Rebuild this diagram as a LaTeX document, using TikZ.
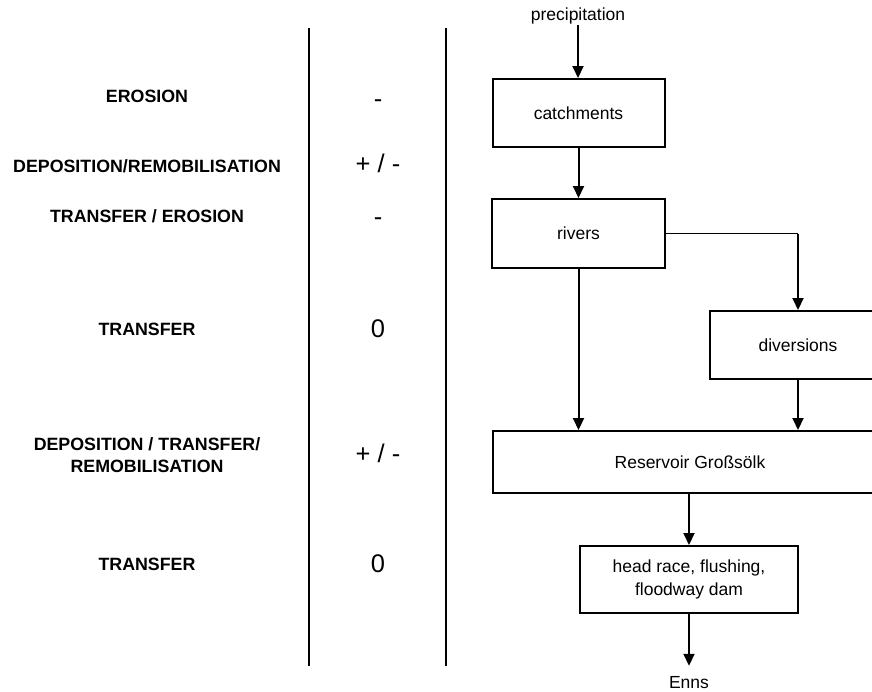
\documentclass[tikz,border=0pt]{standalone}
\usepackage{fontspec}
\setmainfont{Liberation Sans}
\usetikzlibrary{arrows.meta}
\begin{document}
\begin{tikzpicture}[x=1pt,y=-1pt,
  box/.style={draw,line width=2pt,align=center,font=\fontsize{17.5}{23}\selectfont,inner sep=0pt},
  lbl/.style={anchor=base,align=center,font=\fontsize{17.8}{22}\selectfont\bfseries},
  sym/.style={anchor=base,font=\fontsize{25.5}{28}\selectfont},
  plain/.style={anchor=base,font=\fontsize{17.5}{21}\selectfont},
  arr/.style={line width=2pt,-{Triangle[width=11pt,length=12pt]}},
  thinline/.style={line width=1pt},
  sepline/.style={line width=2pt}]
\useasboundingbox (0,0) rectangle (872,691);
\clip (0,0) rectangle (872,691);

% separators
\coordinate (s1t) at (309,28); \coordinate (s1b) at (309,666);
\coordinate (s2t) at (446,28); \coordinate (s2b) at (446,666);
\draw[sepline] (s1t) -- (s1b);
\draw[sepline] (s2t) -- (s2b);

% left labels
\node[lbl] (l1) at (147,102) {EROSION};
\node[lbl] (l2) at (147,172) {DEPOSITION/REMOBILISATION};
\node[lbl] (l3) at (147,222) {TRANSFER / EROSION};
\node[lbl] (l4) at (147,335) {TRANSFER};
\node[lbl,anchor=center] (l5) at (147,455) {DEPOSITION / TRANSFER/\\REMOBILISATION};
\node[lbl] (l6) at (147,570) {TRANSFER};

% middle symbols
\node[sym] (m1) at (378,107) {-};
\node[sym] (m2) at (378,172) {+ / -};
\node[sym] (m3) at (378,225) {-};
\node[sym] (m4) at (378,337) {0};
\node[sym] (m5) at (378,462) {+ / -};
\node[sym] (m6) at (378,572) {0};

% flow boxes
\node[plain,inner sep=1pt] (prec) at (578,20) {precipitation};
\node[box,minimum width=172pt,minimum height=68pt] (cat) at (578.5,113) {catchments};
\node[box,minimum width=173pt,minimum height=69pt] (riv) at (578.5,233.5) {rivers};
\node[box,minimum width=176pt,minimum height=68pt] (div) at (798,345) {diversions};
\node[box,minimum width=394pt,minimum height=62pt] (res) at (690,462) {Reservoir Großsölk};
\node[box,minimum width=218pt,minimum height=67pt] (hr) at (689,579.5) {head race, flushing,\\floodway dam};
\node[plain,inner sep=1pt] (enns) at (689,688) {Enns};

% connectors
\draw[arr] (prec.south) -- (prec.south |- cat.north);
\draw[arr] (cat.south) -- (riv.north);
\draw[arr] (riv.south) -- (riv.south |- res.north);
\coordinate (corner) at (riv.east -| div.north);
\draw[thinline] (riv.east) -- (corner);
\draw[arr] (corner) -- (div.north);
\draw[arr] (div.south) -- (div.south |- res.north);
\draw[arr] (hr.north |- res.south) -- (hr.north);
\draw[arr,shorten >=9pt] (hr.south) -- (enns.north);
\end{tikzpicture}
\end{document}
